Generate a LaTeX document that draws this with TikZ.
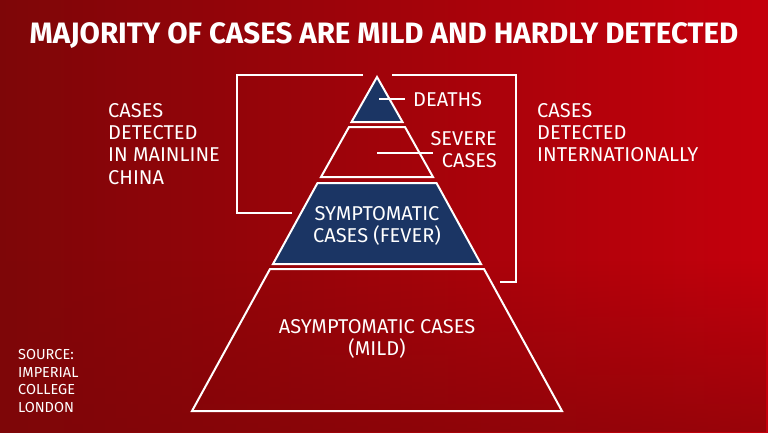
\documentclass[tikz,border=0pt]{standalone}
\usepackage{fontspec}
\setmainfont{Fira Sans}
\usetikzlibrary{positioning,calc,fadings}
\definecolor{skyRed}{HTML}{C4000C}
\definecolor{skyDark}{HTML}{7E0608}
\definecolor{skyNavy}{HTML}{1B3564}

\begin{document}
\begin{tikzpicture}[x=1pt,y=-1pt,
    tier/.style={draw=white,line width=2pt,line join=miter},
    rule/.style={draw=white,line width=1.6pt},
    label/.style={text=white,font=\fontsize{20}{22.3}\selectfont,inner sep=0pt,align=left},
    note/.style={text=white,font=\fontsize{14.5}{17.7}\selectfont,inner sep=0pt,align=left}]
  % background
  \shade[left color=skyDark,right color=skyRed] (0,0) rectangle (768,432);
  \fill[skyDark,path fading=north,opacity=0.6] (0,260) rectangle (768,432);
  \useasboundingbox (0,0) rectangle (768,432);
  \node[text=white,font=\bfseries\fontsize{29.5}{32}\selectfont,inner sep=0pt] (title) at (384,36) {MAJORITY OF CASES ARE MILD AND HARDLY DETECTED};
  % pyramid tiers
  \draw[tier,fill=skyNavy] (377,77) -- (402.5,122) -- (351.5,122) -- cycle;
  \draw[tier] (405,127) -- (433,177) -- (321,177) -- (349,127) -- cycle;
  \draw[tier,fill=skyNavy] (436.5,183) -- (481,264) -- (273,264) -- (317.5,183) -- cycle;
  \draw[tier] (484,269) -- (562,411) -- (192,411) -- (270,269) -- cycle;
  % brackets
  \draw[rule] (363,75) -- (237,75) -- (237,213) -- (292,213);
  \draw[rule] (392,75) -- (516,75) -- (516,282) -- (500,282);
  % texts
  \node[label,anchor=west] (deaths) at (413,100) {DEATHS};
  \node[label,align=right,anchor=north east] (severe) at (497,131) {SEVERE\\CASES};
  \node[label,align=center] (sympt) at (377,226) {SYMPTOMATIC\\CASES (FEVER)};
  \node[label,align=center] (asympt) at (377,339) {ASYMPTOMATIC CASES\\(MILD)};
  \node[label,anchor=north west] (china) at (108,103) {CASES\\DETECTED\\IN MAINLINE\\CHINA};
  \node[label,anchor=north west] (intl) at (537,103) {CASES\\DETECTED\\INTERNATIONALLY};
  \node[note,anchor=north west] (source) at (18,349) {SOURCE:\\IMPERIAL\\COLLEGE\\LONDON};
  % leader lines
  \coordinate (dIn) at (379,99);
  \coordinate (dOut) at (405,99);
  \coordinate (sIn) at (377,153);
  \coordinate (sOut) at (433,153);
  \draw[rule] (dIn) -- (dOut);
  \draw[rule] (sIn) -- (sOut);
\end{tikzpicture}
\end{document}
